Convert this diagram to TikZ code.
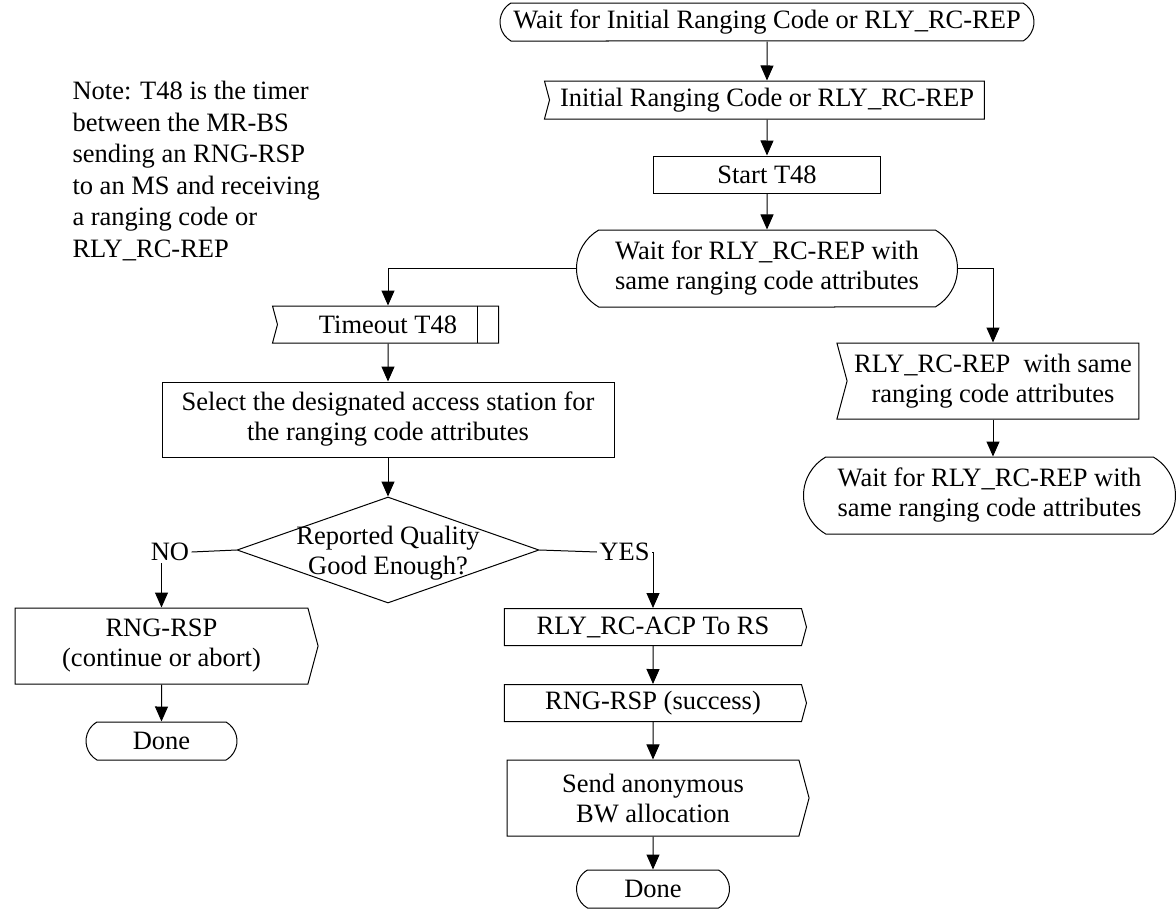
\documentclass[tikz,border=0pt]{standalone}
\usepackage{fontspec}
\setmainfont{Liberation Serif}
\usetikzlibrary{arrows.meta,shapes.geometric,shapes.misc,shapes.symbols}

\begin{document}
\begin{tikzpicture}[x=1pt,y=-1pt,line width=1pt,>={Triangle[width=13pt,length=15pt]}]
    \tikzstyle{every node}=[font=\fontsize{26.5}{30}\selectfont,inner sep=0pt,align=center]
    \tikzstyle{statebox}=[draw,rounded rectangle,rounded rectangle arc length=120,minimum height=38pt]
    \tikzstyle{inbox}=[draw,signal,signal from=west,signal to=nowhere,signal pointer angle=150,minimum height=38pt]
    \tikzstyle{outbox}=[draw,signal,signal to=east,signal from=nowhere,signal pointer angle=150,minimum height=37pt]
    \tikzstyle{taskbox}=[draw,rectangle,minimum height=37pt]
    \tikzstyle{choice}=[draw,diamond,minimum width=302pt,minimum height=106pt]
    \tikzstyle{answer}=[inner sep=2pt]
    \useasboundingbox (0,0) rectangle (1176,910);

    \node[align=left,anchor=north west,font=\fontsize{26.5}{31.5}\selectfont] (note) at (72,81)
    {Note: T48 is the timer\\between the MR-BS\\sending an RNG-RSP\\to an MS and receiving\\a ranging code or\\RLY\_RC-REP};

    % main column
    \node[statebox,minimum width=534pt] (wait0) at (767,22) {Wait for Initial Ranging Code or RLY\_RC-REP};
    \node[inbox,minimum width=440pt] (rcv0) at (767,100) {Initial Ranging Code or RLY\_RC-REP};
    \node[taskbox,minimum width=227pt] (start) at (767,174.5) {Start T48};
    \node[statebox,minimum width=381pt,minimum height=77pt] (wait1) at (767,268.5)
    {Wait for RLY\_RC-REP with\\same ranging code attributes};

    % timeout branch
    \node[inbox,minimum width=226pt,minimum height=37pt] (tmo) at (388,324.5) {Timeout T48};
    \draw ([xshift=-22pt]tmo.north east) -- ([xshift=-22pt]tmo.south east);
    \node[taskbox,minimum width=452pt,minimum height=75pt] (select) at (388,419.5)
    {Select the designated access station for\\the ranging code attributes};
    \node[choice] (qual) at (388,550) {};
    \node (qualtxt) at (388,553) {Reported Quality\\Good Enough?};
    \node[answer] (no) at (170,552) {NO};
    \node[answer] (yes) at (624.5,552) {YES};

    \node[outbox,minimum width=303pt,minimum height=76pt] (rngfail) at (161.5,646)
    {RNG-RSP\\(continue or abort)};
    \node[statebox,minimum width=151pt] (done0) at (161.5,741) {Done};

    \node[outbox,minimum width=302pt] (acp) at (653,627) {RLY\_RC-ACP To RS};
    \node[outbox,minimum width=302pt] (succ) at (653,703) {RNG-RSP (success)};
    \node[outbox,minimum width=302pt,minimum height=76pt] (anon) at (653,798)
    {Send anonymous\\BW allocation};
    \node[statebox,minimum width=153pt] (done1) at (653,889) {Done};

    % repeated report branch
    \node[inbox,minimum width=302pt,minimum height=76pt] (rcv1) at (993,381)
    {RLY\_RC-REP\ \ with same\\ranging code attributes};
    \node[statebox,minimum width=372pt,minimum height=77pt] (wait2) at (989.5,495.5)
    {Wait for RLY\_RC-REP with\\same ranging code attributes};

    \draw[->] (wait0) -- (rcv0);
    \draw[->] (rcv0) -- (start);
    \draw[->] (start) -- (wait1);
    \draw[->] (wait1.west) -| (tmo.north);
    \draw[->] (wait1.east) -| (rcv1.north);
    \draw[->] (rcv1.south) -- (rcv1.south |- wait2.north);
    \draw[->] (tmo) -- (select);
    \draw[->] (select) -- (qual);
    \draw (qual.west) -- (no.east);
    \draw[->] (no.south -| rngfail.north) -- (rngfail.north);
    \draw[->] (rngfail) -- (done0);
    \draw (qual.east) -- (yes.west);
    \draw[->] (yes.east) -| (acp.north);
    \draw[->] (acp) -- (succ);
    \draw[->] (succ) -- (anon);
    \draw[->] (anon) -- (done1);
\end{tikzpicture}
\end{document}
